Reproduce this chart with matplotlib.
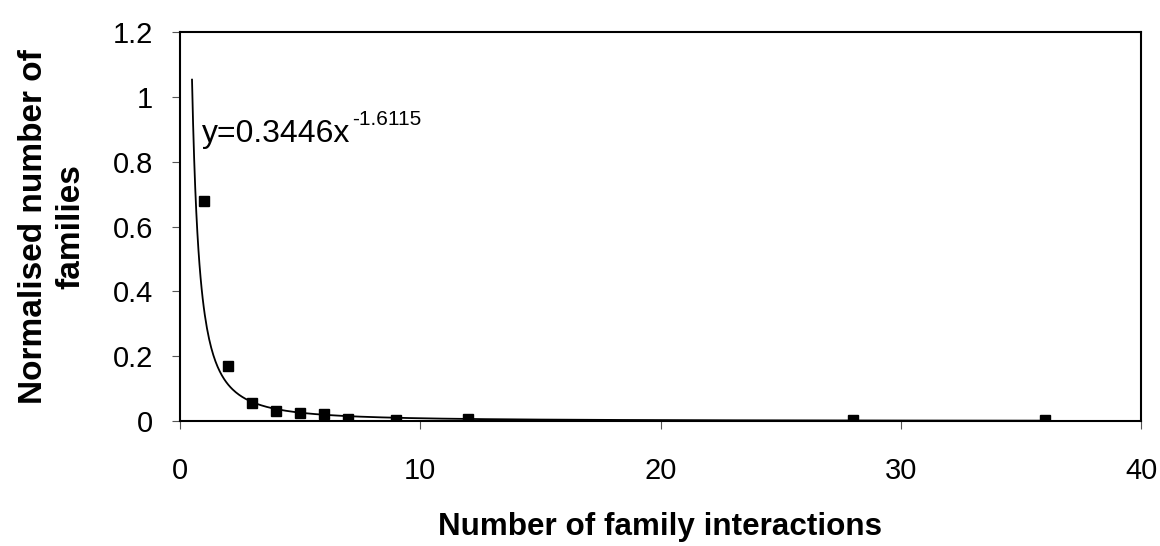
import matplotlib.pyplot as plt
import numpy as np

plt.rcParams['font.family'] = ['Liberation Sans', 'DejaVu Sans']

# data
interactions = [1, 2, 3, 4, 5, 6, 7, 9, 12, 28, 36]
norm_families = [0.68, 0.17, 0.055, 0.03, 0.024, 0.022, 0.007, 0.003, 0.006, 0.003, 0.003]
coef_a = 0.3446
coef_b = -1.6115

fig = plt.figure(figsize=(11.6, 5.46), dpi=100)
ax = fig.add_axes([180/1160, 1-421/546, 961/1160, 389/546])

# power law fit
xf = np.linspace(0.5, 36, 800)
ax.plot(xf, coef_a * xf ** coef_b, color='black', lw=1.3)
ax.plot(interactions, norm_families, 's', color='black', ms=7.5)

# equation, superscript as separate text
eq = ax.text(0.92, 0.861, 'y=0.3446x', fontsize=23)
ax.annotate('-1.6115', xy=(1, 0), xycoords=eq, xytext=(1, 14),
            textcoords='offset points', fontsize=15, va='bottom')

ax.set_xlim(0, 40)
ax.set_ylim(0, 1.2)
ax.set_xticks([0, 10, 20, 30, 40])
ax.set_yticks([0, 0.2, 0.4, 0.6, 0.8, 1.0, 1.2])
ax.set_yticklabels(['0', '0.2', '0.4', '0.6', '0.8', '1', '1.2'])
ax.tick_params(labelsize=21, direction='out', length=6, width=0.8, color='#555555')
ax.tick_params(axis='x', pad=20)
ax.tick_params(axis='y', pad=13.5)
for s in ax.spines.values():
    s.set_linewidth(1.5)

ax.set_xlabel('Number of family interactions', fontsize=22.6, fontweight='bold', labelpad=19)
ax.set_ylabel('Normalised number of\nfamilies', fontsize=24, fontweight='bold', labelpad=18.5,
              linespacing=1.3)

fig.savefig('out.png', dpi=100)
